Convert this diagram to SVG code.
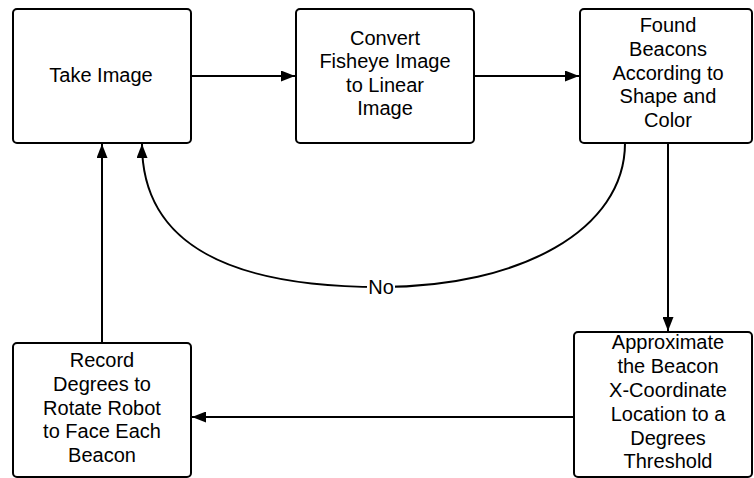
<svg xmlns="http://www.w3.org/2000/svg" width="754" height="478" viewBox="0 0 754 478">
<defs>
<style>
.box{fill:#fff;stroke:#000;stroke-width:2}
.t{font-family:"Liberation Sans",Arial,sans-serif;font-size:20px;fill:#000;text-anchor:middle}
.c{fill:none;stroke:#000;stroke-width:2}
</style>
<marker id="ah" viewBox="0 0 14 11" refX="14" refY="5.5" markerWidth="14" markerHeight="11" markerUnits="userSpaceOnUse" orient="auto">
<path d="M0,0 L14,5.5 L0,11 Z" fill="#000"/>
</marker>
</defs>
<rect width="754" height="478" fill="#fff"/>
<g id="connectors">
<line class="c" x1="191" y1="76" x2="295" y2="76" marker-end="url(#ah)"/>
<line class="c" x1="474" y1="76" x2="579" y2="76" marker-end="url(#ah)"/>
<line class="c" x1="668" y1="143" x2="668" y2="331" marker-end="url(#ah)"/>
<line class="c" x1="574" y1="417" x2="192" y2="417" marker-end="url(#ah)"/>
<line class="c" x1="102" y1="343" x2="102" y2="144" marker-end="url(#ah)"/>
<path class="c" d="M625,143 C625,230 520,287 381,287 C230,287 142,245 142,144" marker-end="url(#ah)"/>
<rect x="367" y="278" width="28" height="18" fill="#fff"/>
<text class="t" x="381" y="294">No</text>
</g>
<g id="take-image">
<rect class="box" x="13" y="9" width="178" height="134" rx="4"/>
<text class="t" x="101" y="82">Take Image</text>
</g>
<g id="convert">
<rect class="box" x="296" y="9" width="178" height="134" rx="4"/>
<text class="t" x="385" y="45">Convert</text>
<text class="t" x="385" y="68">Fisheye Image</text>
<text class="t" x="385" y="92">to Linear</text>
<text class="t" x="385" y="115">Image</text>
</g>
<g id="found">
<rect class="box" x="580" y="9" width="172" height="134" rx="4"/>
<text class="t" x="668" y="32">Found</text>
<text class="t" x="668" y="56">Beacons</text>
<text class="t" x="668" y="80">According to</text>
<text class="t" x="668" y="103">Shape and</text>
<text class="t" x="668" y="127">Color</text>
</g>
<g id="approximate">
<rect class="box" x="574" y="332" width="178" height="145" rx="4"/>
<text class="t" x="668" y="349">Approximate</text>
<text class="t" x="668" y="373">the Beacon</text>
<text class="t" x="668" y="397">X-Coordinate</text>
<text class="t" x="668" y="421">Location to a</text>
<text class="t" x="668" y="445">Degrees</text>
<text class="t" x="668" y="468">Threshold</text>
</g>
<g id="record">
<rect class="box" x="13" y="343" width="178" height="134" rx="4"/>
<text class="t" x="102" y="367">Record</text>
<text class="t" x="102" y="391">Degrees to</text>
<text class="t" x="102" y="415">Rotate Robot</text>
<text class="t" x="102" y="438">to Face Each</text>
<text class="t" x="102" y="462">Beacon</text>
</g>
</svg>
